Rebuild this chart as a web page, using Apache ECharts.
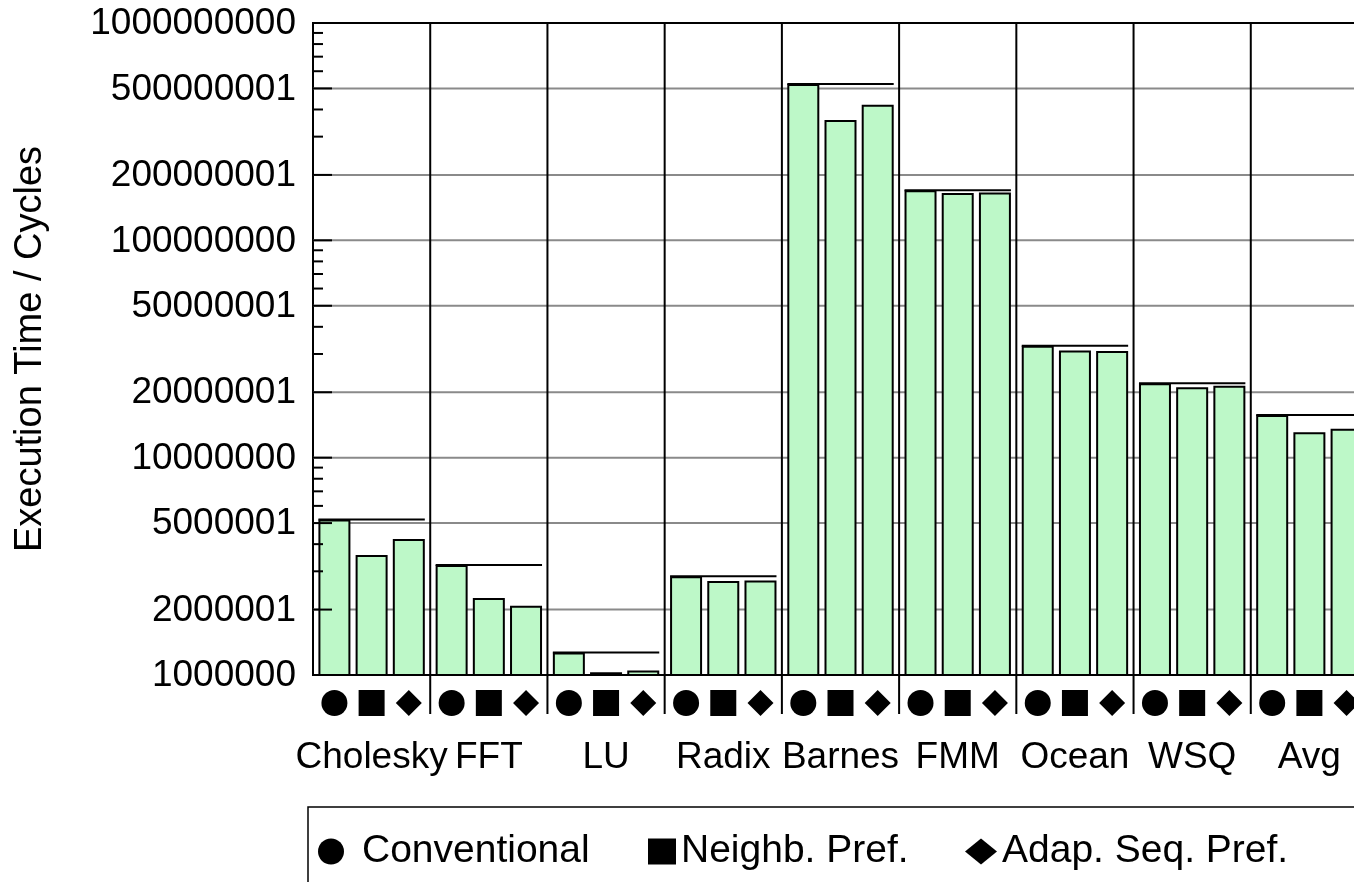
<!DOCTYPE html>
<html>
<head>
<meta charset="utf-8">
<title>Execution Time / Cycles</title>
<style>
  html, body { margin: 0; padding: 0; overflow: hidden; background: #ffffff; }
  #chart { width: 1380px; height: 882px; }
</style>
<script src="https://cdn.jsdelivr.net/npm/echarts@6/dist/echarts.min.js"></script>
</head>
<body>
<div id="chart"></div>
<script>
// Benchmarks and execution time (cycles) per prefetching scheme
const benchmarks = ['Cholesky', 'FFT', 'LU', 'Radix', 'Barnes', 'FMM', 'Ocean', 'WSQ', 'Avg'];
const conventional = [5.2e6, 3.21e6, 1.27e6, 2.85e6, 5.24e8, 1.70e8, 3.27e7, 2.20e7, 1.57e7];
const neighbPref   = [3.57e6, 2.26e6, 1.03e6, 2.71e6, 3.58e8, 1.65e8, 3.11e7, 2.11e7, 1.31e7];
const adapSeqPref  = [4.22e6, 2.08e6, 1.05e6, 2.72e6, 4.21e8, 1.66e8, 3.10e7, 2.14e7, 1.36e7];

// Y axis ticks (log scale)
const majorTicks = [1e6, 2e6, 5e6, 1e7, 2e7, 5e7, 1e8, 2e8, 5e8, 1e9];
const majorTickLabels = ['1000000', '2000001', '5000001', '10000000', '20000001',
                         '50000001', '100000000', '200000001', '500000001', '1000000000'];
const minorTicks = [3e6, 4e6, 6e6, 7e6, 8e6, 9e6,
                    3e7, 4e7, 6e7, 7e7, 8e7, 9e7,
                    3e8, 4e8, 6e8, 7e8, 8e8, 9e8];

const seriesNames = ['Conventional', 'Neighb. Pref.', 'Adap. Seq. Pref.'];
const seriesValues = [conventional, neighbPref, adapSeqPref];
const markerShapes = ['circle', 'rect', 'diamond'];

// Layout / style constants
const FONT = '"Liberation Sans", Arial, Helvetica, sans-serif';
const BAR_W = 32;
const BAR_GAP = 5.2;
const BAR_FILL = '#bdf8c8';
const MARKER_DROP = 28;      // marker row below the x axis
const SEPARATOR_DROP = 39;   // group separators reach below the axis

// One legend block per scheme, each placed on its own
const legendSlots = [
  { left: 318, itemWidth: 52 },
  { left: 648, itemWidth: 28 },
  { left: 965, itemWidth: 32 }
];

const chart = echarts.init(document.getElementById('chart'), null, { renderer: 'canvas' });

const barSeries = seriesValues.map((vals, k) => ({
  name: seriesNames[k],
  type: 'bar',
  data: vals,
  barWidth: BAR_W,
  barGap: (BAR_GAP / BAR_W * 100) + '%',
  itemStyle: { color: BAR_FILL, borderColor: '#000', borderWidth: 2 },
  z: 3
}));

const markerSeries = markerShapes.map((shape, k) => ({
  name: seriesNames[k],
  type: 'scatter',
  data: benchmarks.map(b => [b, majorTicks[0]]),
  symbol: shape,
  symbolSize: 26,
  symbolOffset: [(k - 1) * (BAR_W + BAR_GAP), MARKER_DROP],
  itemStyle: { color: '#000', opacity: 1 },
  clip: false,
  silent: true,
  z: 6
}));

// Horizontal grid lines at the labelled ticks
const gridLineSeries = {
  type: 'custom',
  name: 'gridLines',
  data: majorTicks.map(v => [0, v]),
  clip: false,
  silent: true,
  z: 1,
  renderItem(params, api) {
    const cs = params.coordSys;
    const i = params.dataIndex;
    if (i === 0 || i === majorTicks.length - 1) return null;
    const y = api.coord([0, api.value(1)])[1];
    return {
      type: 'line',
      shape: { x1: cs.x, y1: y, x2: cs.x + cs.width, y2: y },
      style: { stroke: '#8a8a8a', lineWidth: 2 }
    };
  }
};

// Inward major ticks with their labels
const majorTickSeries = {
  type: 'custom',
  name: 'majorTicks',
  data: majorTicks.map(v => [0, v]),
  clip: false,
  silent: true,
  z: 8,
  renderItem(params, api) {
    const cs = params.coordSys;
    const y = api.coord([0, api.value(1)])[1];
    return {
      type: 'group',
      children: [
        { type: 'line', shape: { x1: cs.x, y1: y, x2: cs.x + 19, y2: y },
          style: { stroke: '#000', lineWidth: 2 } },
        { type: 'text', x: cs.x - 17, y: y + 1,
          style: { text: majorTickLabels[params.dataIndex], fill: '#000',
                   font: '37px ' + FONT, align: 'right', verticalAlign: 'middle' } }
      ]
    };
  }
};

// Short inward minor ticks
const minorTickSeries = {
  type: 'custom',
  name: 'minorTicks',
  data: minorTicks.map(v => [0, v]),
  clip: false,
  silent: true,
  z: 8,
  renderItem(params, api) {
    const cs = params.coordSys;
    const y = api.coord([0, api.value(1)])[1];
    return { type: 'line', shape: { x1: cs.x, y1: y, x2: cs.x + 10, y2: y },
             style: { stroke: '#000', lineWidth: 2 } };
  }
};

// Group separators and the conventional-level reference line over each group
const groupSeries = {
  type: 'custom',
  name: 'groups',
  data: conventional.map((v, i) => [i, v]),
  clip: false,
  silent: true,
  z: 7,
  renderItem(params, api) {
    const cs = params.coordSys;
    const pt = api.coord([api.value(0), api.value(1)]);
    const band = api.size([1, 0])[0];
    const half = (3 * BAR_W + 2 * BAR_GAP) / 2;
    const sepX = pt[0] + band / 2;
    return {
      type: 'group',
      children: [
        { type: 'line',
          shape: { x1: sepX, y1: cs.y, x2: sepX, y2: cs.y + cs.height + SEPARATOR_DROP },
          style: { stroke: '#000', lineWidth: 2 } },
        { type: 'line',
          shape: { x1: pt[0] - half, y1: pt[1], x2: pt[0] + half, y2: pt[1] },
          style: { stroke: '#000', lineWidth: 2 } }
      ]
    };
  }
};

const legends = seriesNames.map((n, k) => ({
  left: legendSlots[k].left,
  top: 832,
  padding: 0,
  selectedMode: false,
  itemWidth: legendSlots[k].itemWidth,
  itemHeight: 26,
  symbolKeepAspect: true,
  textStyle: { fontSize: 39, color: '#000', fontFamily: FONT },
  data: [{ name: n, icon: markerShapes[k], itemStyle: { color: '#000', borderWidth: 0, opacity: 1 } }]
}));

const option = {
  animation: false,
  backgroundColor: '#ffffff',
  textStyle: { fontFamily: FONT },
  grid: {
    left: 313, top: 23, right: 12, bottom: 207,
    show: true, borderColor: '#000', borderWidth: 2, backgroundColor: 'transparent'
  },
  legend: legends,
  graphic: [{
    type: 'rect',
    shape: { x: 308, y: 807, width: 1200, height: 200 },
    style: { fill: 'none', stroke: '#000', lineWidth: 1.5 },
    silent: true
  }],
  xAxis: {
    type: 'category',
    data: benchmarks,
    axisLine: { lineStyle: { color: '#000', width: 2 } },
    axisTick: { show: false },
    splitLine: { show: false },
    axisLabel: { interval: 0, color: '#000', fontSize: 37, fontFamily: FONT, margin: 64 }
  },
  yAxis: {
    type: 'log',
    logBase: 10,
    min: 1e6,
    max: 1e9,
    name: 'Execution Time / Cycles',
    nameLocation: 'middle',
    nameGap: 263,
    nameTextStyle: { fontSize: 38, color: '#000', fontFamily: FONT },
    axisLine: { show: true, lineStyle: { color: '#000', width: 2 } },
    axisTick: { show: false },
    axisLabel: { show: false },
    splitLine: { show: false },
    minorTick: { show: false },
    minorSplitLine: { show: false }
  },
  series: [gridLineSeries, ...barSeries, groupSeries, majorTickSeries, minorTickSeries, ...markerSeries]
};

chart.setOption(option);
</script>
</body>
</html>
